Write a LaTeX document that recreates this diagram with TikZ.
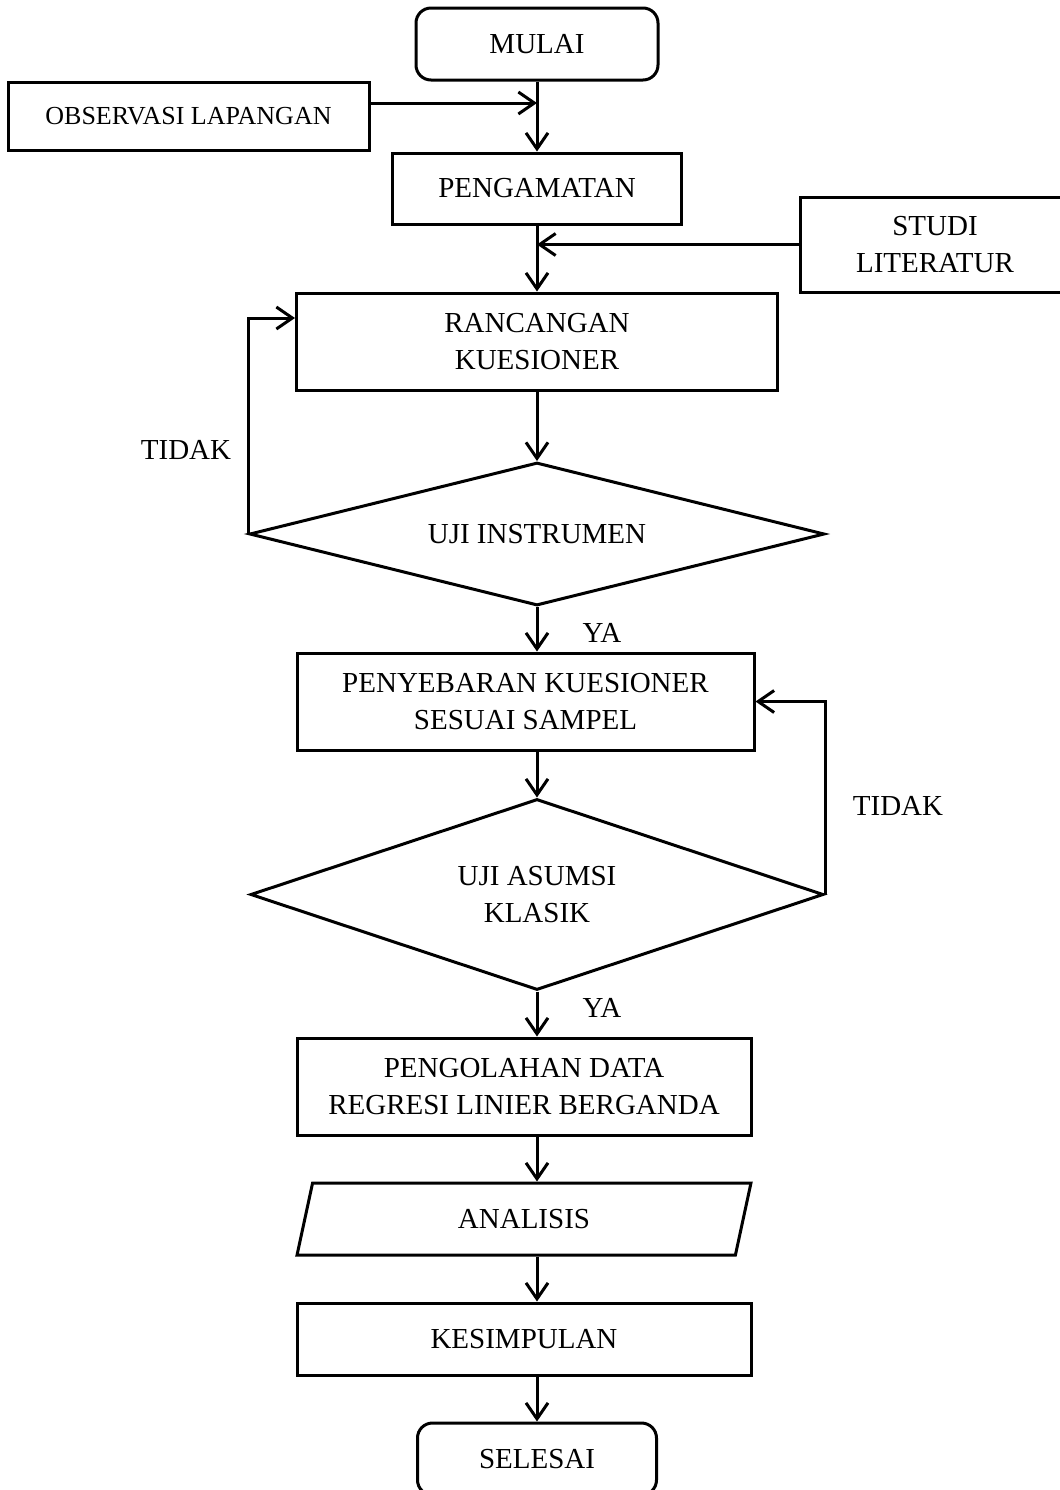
\documentclass[tikz,border=0pt]{standalone}
\usepackage{fontspec}
\setmainfont{Liberation Serif}
\usepackage{tikz}
\usetikzlibrary{shapes.geometric,arrows.meta}

\begin{document}
\begin{tikzpicture}[x=0.5pt,y=-0.5pt,line width=1.5pt,>={Straight Barb[length=8pt,width=11pt]},
		teks/.style={font=\fontsize{14.5}{18.5}\selectfont},
		proses/.style={draw,rectangle,align=center,inner sep=0pt,teks},
		terminal/.style={proses,rounded corners=7.5pt},
		keputusan/.style={draw,diamond,aspect=4,align=center,inner sep=0pt,teks},
		dataio/.style={draw,trapezium,trapezium left angle=76,trapezium right angle=104,trapezium stretches=true,align=center,inner sep=0pt,teks}]
		\useasboundingbox (0,0) rectangle (1060,1490);

		\node[terminal,minimum width=121pt,minimum height=36pt] (mulai) at (537,44) {MULAI};
		\node[proses,minimum width=180.5pt,minimum height=34pt,font=\fontsize{13}{16}\selectfont] (obs) at (188.5,116) {OBSERVASI LAPANGAN};
		\node[proses,minimum width=144.5pt,minimum height=35.5pt] (amat) at (537,188.5) {PENGAMATAN};
		\node[proses,minimum width=135pt,minimum height=47.5pt] (studi) at (935,244.5) {STUDI\\LITERATUR};
		\node[proses,minimum width=240.5pt,minimum height=48.5pt] (rancang) at (537,341.5) {RANCANGAN\\KUESIONER};
		\node[keputusan,minimum width=287.5pt,minimum height=71.5pt] (uji1) at (537,534) {UJI INSTRUMEN};
		\node[proses,minimum width=228.5pt,minimum height=48.5pt] (sebar) at (525.5,701.5) {PENYEBARAN KUESIONER\\SESUAI SAMPEL};
		\node[keputusan,minimum width=286.5pt,minimum height=95.5pt] (uji2) at (537,894.5) {UJI ASUMSI\\KLASIK};
		\node[proses,minimum width=227pt,minimum height=48.5pt] (olah) at (524,1086.5) {PENGOLAHAN DATA\\REGRESI LINIER BERGANDA};
		\node[dataio,minimum width=227pt,minimum height=36pt] (analisis) at (524,1219) {ANALISIS};
		\node[proses,minimum width=227pt,minimum height=36pt] (simpul) at (524,1339) {KESIMPULAN};
		\node[terminal,minimum width=119.5pt,minimum height=36pt] (selesai) at (537,1459) {SELESAI};

		\node[teks] (tidak1) at (186,450) {TIDAK};
		\node[teks] (ya1) at (602,633) {YA};
		\node[teks] (tidak2) at (898,806) {TIDAK};
		\node[teks] (ya2) at (602,1008) {YA};

		\path[->] (mulai) edge (amat);
		\path[->] (amat) edge (rancang);
		\path[->] (rancang) edge (uji1);
		\draw[->] ([yshift=6.5pt]obs.east) -- ([yshift=6.5pt]obs.east -| mulai.south);
		\draw[->] (studi.west) -- (studi.west -| amat.south);

		\draw[->] (uji1.south) -- (uji1.south |- sebar.north);
		\draw[->] (sebar.south -| uji2.north) -- (uji2.north);
		\draw[->] (uji2.south) -- (uji2.south |- olah.north);
		\draw[->] (olah.south -| uji2.south) -- (analisis.north -| uji2.south);
		\draw[->] (analisis.south -| uji2.south) -- (simpul.north -| uji2.south);
		\draw[->] (simpul.south -| selesai.north) -- (selesai.north);

		\draw[->] (uji1.west) |- ([yshift=11.75pt]rancang.west);
		\draw[->] (uji2.east) |- (sebar.east);
\end{tikzpicture}
\end{document}
